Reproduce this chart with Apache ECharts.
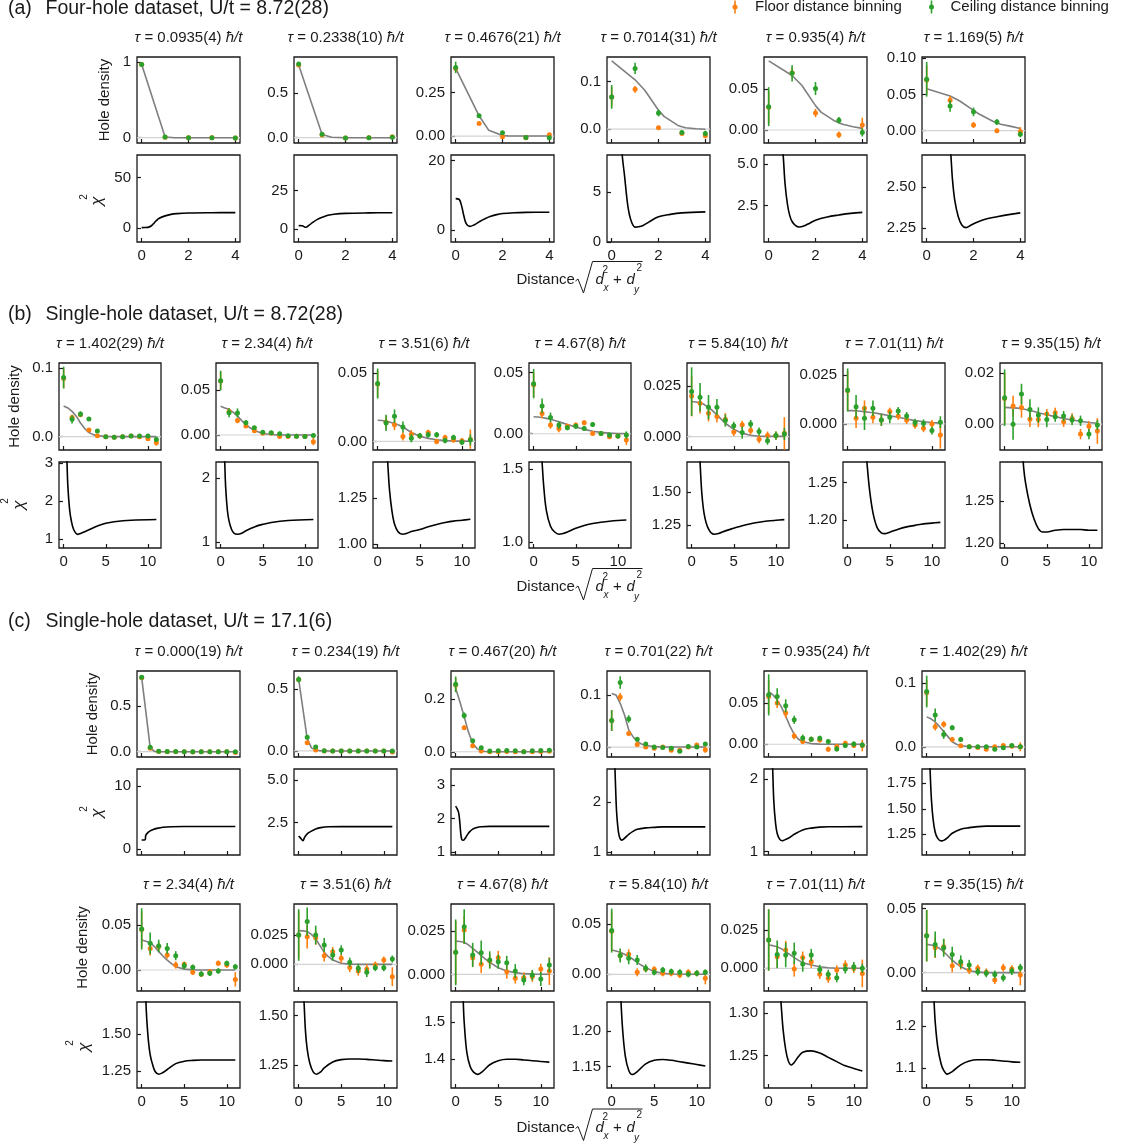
<!DOCTYPE html>
<html><head><meta charset="utf-8">
<script src="https://cdn.jsdelivr.net/npm/echarts/dist/echarts.min.js"></script>
<style>html,body{margin:0;padding:0;background:#fff}#c{width:1123px;height:1147px}</style>
</head><body><div id="c"></div>
<script>
// ---------------- DATA ----------------
const sectionTitles = ['Four-hole dataset, U/t = 8.72(28)', 'Single-hole dataset, U/t = 8.72(28)', 'Single-hole dataset, U/t = 17.1(6)'];
const legendNames = ['Floor distance binning', 'Ceiling distance binning'];

// (a) four-hole, distances 0..4
const aTau = ['0.0935(4)', '0.2338(10)', '0.4676(21)', '0.7014(31)', '0.935(4)', '1.169(5)'];
const aXTicks = [0, 2, 4];
const aFloor = [
  [0.97, 0.005, 0.0, 0.0, -0.005],
  [0.82, 0.03, -0.005, 0.0, 0.01],
  [0.39, 0.073, -0.004, -0.01, 0.008],
  [0.068, 0.084, 0.003, -0.009, -0.014],
  [0.028, 0.0705, 0.021, -0.006, 0.006],
  [0.07, 0.042, 0.008, 0.0, -0.001]
];
const aFloorErr = [
  [0.015, 0.005, 0.003, 0.003, 0.003],
  [0.02, 0.005, 0.003, 0.003, 0.004],
  [0.02, 0.006, 0.004, 0.004, 0.005],
  [0.02, 0.007, 0.004, 0.003, 0.005],
  [0.02, 0.006, 0.005, 0.004, 0.009],
  [0.02, 0.006, 0.004, 0.003, 0.006]
];
const aCeil = [
  [0.97, 0.01, 0.0, 0.0, -0.005],
  [0.83, 0.04, -0.005, 0.0, 0.005],
  [0.396, 0.117, 0.019, -0.008, -0.01],
  [0.068, 0.128, 0.034, -0.007, -0.009],
  [0.0287, 0.0697, 0.051, 0.012, -0.003],
  [0.071, 0.034, 0.026, 0.012, -0.005]
];
const aCeilErr = [
  [0.02, 0.006, 0.003, 0.003, 0.003],
  [0.025, 0.008, 0.004, 0.003, 0.004],
  [0.033, 0.01, 0.006, 0.004, 0.005],
  [0.025, 0.012, 0.007, 0.004, 0.006],
  [0.024, 0.01, 0.008, 0.004, 0.005],
  [0.024, 0.008, 0.006, 0.004, 0.004]
];
const aFitX = [0, 1, 1.414, 2, 2.236, 2.828, 3, 3.162, 3.606, 4];
const aFit = [
  [0.97, 0.01, 0.0, 0, 0, 0, 0, 0, 0, 0],
  [0.82, 0.035, 0.005, 0, 0, 0, 0, 0, 0, 0],
  [0.39, 0.117, 0.033, 0.003, 0.001, 0, 0, 0, 0, 0],
  [0.144, 0.104, 0.082, 0.040, 0.027, 0.008, 0.005, 0.003, 0.001, 0.0],
  [0.085, 0.067, 0.055, 0.030, 0.022, 0.011, 0.009, 0.007, 0.004, 0.002],
  [0.058, 0.048, 0.041, 0.028, 0.023, 0.013, 0.011, 0.009, 0.006, 0.003]
];
const aChi2 = [
  [[0,0.7],[0.15,0.8],[0.3,1.2],[0.4,2.3],[0.5,4.5],[0.6,7],[0.75,9.9],[1.0,12.3],[1.25,13.8],[1.5,14.5],[2,15.1],[3,15.4],[4,15.5]],
  [[0,2.2],[0.15,2.1],[0.3,1.1],[0.45,2.5],[0.6,4.3],[0.8,6.3],[1.0,7.6],[1.25,8.9],[1.5,9.6],[2,10.2],[3,10.5],[4,10.6]],
  [[0,9],[0.15,8.8],[0.25,7],[0.35,4],[0.45,1.8],[0.6,1.0],[0.8,1.5],[1.0,2.3],[1.25,3.2],[1.5,3.9],[1.75,4.4],[2,4.7],[2.5,4.95],[3,5.05],[4,5.1]],
  [[0.4,11],[0.45,8.7],[0.55,6.6],[0.69,3.6],[0.83,2.1],[1.0,1.47],[1.15,1.5],[1.34,1.63],[1.6,2.0],[2,2.5],[2.5,2.75],[3,2.9],[4,3.0]],
  [[0.55,6.5],[0.62,5.5],[0.7,3.8],[0.8,2.6],[0.9,1.9],[1.0,1.55],[1.15,1.3],[1.3,1.22],[1.5,1.28],[1.75,1.45],[2,1.63],[2.5,1.82],[3,1.94],[3.5,2.04],[4,2.1]],
  [[0.95,2.8],[1.03,2.7],[1.1,2.55],[1.2,2.42],[1.35,2.32],[1.5,2.27],[1.68,2.254],[1.9,2.27],[2.2,2.29],[2.5,2.305],[3,2.32],[3.5,2.333],[4,2.344]]
];
const aTopLim = [[-0.07,1.07],[-0.06,0.91],[-0.04,0.456],[-0.029,0.152],[-0.016,0.0898],[-0.017,0.1018]];
const aTopTicks = [[0,1],[0,0.5],[0,0.25],[0,0.1],[0,0.05],[0,0.05,0.1]];
const aTopDec = [0,1,2,1,2,2];
const aChiLim = [[-13.5,72.4],[-8.5,48.3],[-3.5,21.6],[-0.02,8.7],[0.32,5.54],[2.166,2.697]];
const aChiTicks = [[0,50],[0,25],[0,20],[0,5],[2.5,5],[2.25,2.5]];
const aChiDec = [0,0,0,0,1,2];

// (b) single-hole U/t=8.72, distances 0..11
const bTau = ['1.402(29)', '2.34(4)', '3.51(6)', '4.67(8)', '5.84(10)', '7.01(11)', '9.35(15)'];
const bcXTicks = [0, 5, 10];
const bFloor = [
  [0.085, 0.028, 0.032, 0.0098, 0.0015, 0.0, -0.001, 0.0, 0.001, 0.0, -0.003, -0.009],
  [0.06, 0.026, 0.016, 0.01, 0.0048, 0.002, 0.002, -0.0017, -0.0017, -0.0015, -0.0017, -0.0074],
  [0.042, 0.014, 0.0122, 0.0036, 0.0053, 0.004, 0.0065, -0.0001, 0.0028, 0.0011, 0.0004, 0.0016],
  [0.04, 0.0166, 0.0071, 0.0043, 0.0062, 0.0071, 0.009, 0.0003, 0.0003, -0.0024, -0.0019, -0.0052],
  [0.02, 0.0164, 0.0115, 0.0099, 0.0086, 0.0023, 0.0058, 0.003, -0.0013, 0.0005, 0.0005, 0.0016],
  [0.017, 0.0029, 0.008, 0.0034, 0.002, 0.0063, 0.0041, 0.002, -0.0005, -0.0022, 0.0, -0.0056],
  [0.01, 0.007, 0.0065, 0.0019, 0.0018, 0.0039, 0.0044, 0.0009, 0.0022, -0.0039, -0.0008, -0.0027]
];
const bFloorErr = [
  [0.014, 0.004, 0.003, 0.003, 0.002, 0.002, 0.002, 0.002, 0.002, 0.002, 0.003, 0.004],
  [0.01, 0.004, 0.003, 0.002, 0.002, 0.002, 0.002, 0.002, 0.002, 0.002, 0.002, 0.004],
  [0.01, 0.005, 0.004, 0.003, 0.003, 0.002, 0.002, 0.002, 0.002, 0.002, 0.002, 0.007],
  [0.01, 0.004, 0.003, 0.003, 0.002, 0.002, 0.002, 0.002, 0.002, 0.002, 0.002, 0.004],
  [0.01, 0.005, 0.004, 0.003, 0.003, 0.002, 0.002, 0.002, 0.002, 0.002, 0.002, 0.008],
  [0.01, 0.005, 0.004, 0.003, 0.003, 0.002, 0.002, 0.002, 0.002, 0.002, 0.002, 0.007],
  [0.01, 0.004, 0.004, 0.003, 0.003, 0.002, 0.002, 0.002, 0.002, 0.002, 0.002, 0.005]
];
const bCeil = [
  [0.0865, 0.0254, 0.033, 0.026, 0.0083, 0.0, -0.001, 0.0, 0.001, 0.001, 0.001, -0.004],
  [0.0604, 0.0248, 0.0245, 0.0137, 0.0081, 0.003, 0.0025, 0.0015, -0.001, -0.0015, -0.0017, -0.0005],
  [0.0423, 0.0135, 0.0184, 0.0105, 0.0023, 0.0041, 0.0048, 0.0048, 0.0006, 0.0028, -0.0006, 0.0011],
  [0.041, 0.0228, 0.0133, 0.0071, 0.0049, 0.0062, 0.0043, 0.0076, 0.0003, -0.0011, -0.0019, -0.0011],
  [0.0222, 0.0194, 0.0145, 0.0145, 0.0079, 0.0053, 0.002, 0.0062, 0.0025, -0.002, 0.0005, 0.0013],
  [0.0173, 0.0088, 0.0029, 0.008, 0.002, 0.0034, 0.0066, 0.0041, 0.0007, 0.0003, -0.0034, 0.0009],
  [0.0103, -0.0001, 0.0117, 0.0057, 0.0035, 0.0018, 0.0029, 0.0031, 0.0016, 0.0013, -0.0039, -0.0004]
];
const bCeilErr = [
  [0.016, 0.006, 0.004, 0.002, 0.002, 0.002, 0.002, 0.002, 0.002, 0.002, 0.002, 0.004],
  [0.011, 0.005, 0.005, 0.003, 0.002, 0.002, 0.002, 0.002, 0.002, 0.002, 0.002, 0.002],
  [0.011, 0.006, 0.005, 0.004, 0.003, 0.002, 0.002, 0.002, 0.002, 0.002, 0.002, 0.004],
  [0.012, 0.006, 0.004, 0.003, 0.002, 0.002, 0.002, 0.002, 0.002, 0.002, 0.002, 0.003],
  [0.012, 0.007, 0.006, 0.004, 0.003, 0.002, 0.003, 0.002, 0.002, 0.002, 0.002, 0.003],
  [0.011, 0.006, 0.006, 0.004, 0.003, 0.003, 0.002, 0.002, 0.002, 0.002, 0.002, 0.003],
  [0.011, 0.006, 0.004, 0.004, 0.003, 0.003, 0.002, 0.002, 0.002, 0.002, 0.002, 0.002]
];
const bcFitX = [0, 0.5, 1, 1.5, 2, 2.5, 3, 3.5, 4, 5, 6, 7, 8, 9, 10, 11];
const bFit = [
  [0.045, 0.042, 0.037, 0.03, 0.02, 0.012, 0.006, 0.003, 0.0015, 0.0003, 0, 0, 0, 0, 0, 0],
  [0.032, 0.030, 0.0285, 0.025, 0.021, 0.016, 0.0115, 0.008, 0.005, 0.0017, 0.0005, 0.0001, 0, 0, 0, 0],
  [0.0155, 0.0153, 0.0148, 0.014, 0.013, 0.012, 0.0105, 0.0085, 0.0065, 0.0038, 0.0022, 0.0012, 0.0006, 0.0003, 0.0002, 0.0001],
  [0.0139, 0.0137, 0.0133, 0.0126, 0.0118, 0.0108, 0.0098, 0.0087, 0.0076, 0.0055, 0.0036, 0.0021, 0.0011, 0.0005, 0.0002, 0.0001],
  [0.0173, 0.0171, 0.0168, 0.0158, 0.0145, 0.0127, 0.0107, 0.0086, 0.0066, 0.0036, 0.0016, 0.0007, 0.0002, 0.0001, 0.0001, 0.0001],
  [0.0068, 0.0068, 0.0067, 0.0065, 0.0063, 0.006, 0.0057, 0.0054, 0.005, 0.0042, 0.0034, 0.0025, 0.0017, 0.0011, 0.0007, 0.0004],
  [0.0065, 0.0064, 0.0063, 0.0062, 0.0061, 0.0057, 0.0053, 0.0049, 0.0044, 0.0036, 0.0029, 0.0022, 0.0016, 0.0011, 0.0006, 0.0003]
];
const bChi2 = [
  [[0.35,3.3],[0.4,3.0],[0.5,2.4],[0.7,1.8],[0.9,1.5],[1.2,1.25],[1.67,1.13],[2,1.15],[2.5,1.2],[3,1.25],[4,1.35],[5,1.42],[6,1.46],[8,1.5],[11,1.52]],
  [[0.45,2.4],[0.5,2.2],[0.6,1.85],[0.8,1.5],[1.0,1.33],[1.3,1.2],[1.6,1.14],[2,1.125],[2.5,1.14],[3,1.18],[4,1.24],[5,1.28],[6,1.31],[8,1.34],[11,1.355]],
  [[1.1,1.5],[1.2,1.44],[1.4,1.3],[1.7,1.18],[2,1.11],[2.4,1.07],[2.9,1.055],[3.5,1.06],[4,1.07],[5,1.08],[6,1.095],[7,1.108],[8,1.118],[9,1.126],[10,1.131],[11,1.136]],
  [[0.95,1.6],[1.0,1.55],[1.2,1.38],[1.5,1.22],[2,1.11],[2.5,1.07],[3,1.055],[3.5,1.06],[4,1.07],[5,1.095],[6,1.115],[7,1.128],[8,1.137],[9,1.144],[10,1.149],[11,1.152]],
  [[0.95,1.8],[1.0,1.73],[1.2,1.5],[1.5,1.33],[2,1.22],[2.66,1.179],[3.2,1.185],[4,1.205],[5,1.225],[6,1.245],[7,1.26],[8,1.271],[9,1.28],[10,1.286],[11,1.291]],
  [[2.2,1.29],[2.3,1.275],[2.6,1.24],[3,1.21],[3.5,1.19],[4,1.183],[4.4,1.182],[5,1.184],[6,1.188],[7,1.191],[8,1.193],[9,1.195],[10,1.196],[11,1.197]],
  [[2.15,1.31],[2.25,1.29],[2.5,1.27],[3,1.245],[3.5,1.228],[4,1.217],[4.5,1.213],[5,1.213],[6,1.215],[7,1.216],[8,1.216],[9,1.216],[10,1.215],[11,1.215]]
];
const bTopLim = [[-0.0195,0.1078],[-0.0167,0.08],[-0.0063,0.0573],[-0.0133,0.0579],[-0.0066,0.0363],[-0.0133,0.0311],[-0.0101,0.0238]];
const bTopTicks = [[0,0.1],[0,0.05],[0,0.05],[0,0.05],[0,0.025],[0,0.025],[0,0.02]];
const bTopDec = [1,2,2,2,3,3,2];
const bChiLim = [[0.77,3.035],[0.91,2.255],[0.98,1.447],[0.961,1.548],[1.074,1.732],[1.163,1.277],[1.194,1.296]];
const bChiTicks = [[1,2,3],[1,2],[1,1.25],[1,1.5],[1.25,1.5],[1.2,1.25],[1.2,1.25]];
const bChiDec = [0,0,2,1,2,2,2];

// (c) single-hole U/t=17.1, distances 0..11
const cTau = ['0.000(19)', '0.234(19)', '0.467(20)', '0.701(22)', '0.935(24)', '1.402(29)', '2.34(4)', '3.51(6)', '4.67(8)', '5.84(10)', '7.01(11)', '9.35(15)'];
const cFloor = [
  [0.81, 0.037, 0.003, 0.0, 0.0, 0.0, -0.002, 0.0, 0.0, 0.0, 0.0, -0.009],
  [0.58, 0.067, 0.008, 0.0, 0.0, 0.0, 0.0, 0.0, 0.0, 0.0, 0.0, -0.008],
  [0.255, 0.092, 0.023, 0.003, 0.0, 0.0, 0.001, 0.0, 0.0, 0.0, 0.001, 0.002],
  [0.051, 0.096, 0.026, 0.005, 0.0, -0.002, 0.0, -0.006, -0.006, 0.0, 0.004, -0.005],
  [0.058, 0.05, 0.038, 0.01, 0.0033, 0.006, 0.0053, -0.006, -0.0028, 0.0012, -0.0016, -0.0016],
  [0.085, 0.0316, 0.0353, 0.0116, 0.0016, 0.0, -0.001, -0.0037, 0.0, 0.002, 0.001, 0.0],
  [0.045, 0.024, 0.026, 0.0167, 0.0056, 0.0063, -0.0026, -0.0048, -0.0019, 0.0074, 0.0056, -0.0104],
  [0.025, 0.0236, 0.0227, 0.0074, 0.0108, 0.0051, -0.0026, -0.0057, -0.004, -0.0006, 0.0037, -0.0105],
  [0.0127, 0.0256, 0.0096, 0.0058, 0.0077, 0.0096, 0.0015, -0.0023, -0.0019, -0.0013, 0.0031, 0.0019],
  [0.043, 0.0187, 0.02, 0.002, 0.0053, 0.005, 0.001, 0.001, -0.0007, 0.002, 0.001, -0.004],
  [0.0185, 0.0076, 0.012, -0.0004, 0.007, 0.0043, -0.0039, -0.0065, -0.0011, 0.0022, 0.0, -0.0033],
  [0.0288, 0.0194, 0.0202, 0.0054, 0.0065, 0.0021, 0.0034, 0.0003, -0.0057, 0.0039, 0.0028, -0.0018]
];
const cFloorErr = [
  [0.015, 0.005, 0.003, 0.003, 0.003, 0.003, 0.003, 0.003, 0.003, 0.003, 0.003, 0.005],
  [0.02, 0.008, 0.004, 0.003, 0.003, 0.003, 0.003, 0.003, 0.003, 0.003, 0.003, 0.005],
  [0.025, 0.008, 0.005, 0.003, 0.003, 0.003, 0.003, 0.003, 0.003, 0.003, 0.003, 0.003],
  [0.02, 0.008, 0.005, 0.003, 0.003, 0.003, 0.003, 0.003, 0.003, 0.003, 0.003, 0.006],
  [0.02, 0.006, 0.006, 0.004, 0.003, 0.003, 0.003, 0.003, 0.003, 0.003, 0.003, 0.007],
  [0.02, 0.006, 0.005, 0.004, 0.003, 0.002, 0.002, 0.002, 0.002, 0.002, 0.002, 0.007],
  [0.02, 0.008, 0.005, 0.004, 0.004, 0.003, 0.003, 0.003, 0.003, 0.003, 0.003, 0.008],
  [0.02, 0.01, 0.006, 0.005, 0.004, 0.004, 0.004, 0.004, 0.004, 0.003, 0.003, 0.008],
  [0.018, 0.008, 0.005, 0.005, 0.004, 0.004, 0.004, 0.003, 0.003, 0.003, 0.003, 0.008],
  [0.02, 0.005, 0.005, 0.004, 0.003, 0.003, 0.003, 0.003, 0.003, 0.003, 0.003, 0.006],
  [0.02, 0.007, 0.006, 0.005, 0.004, 0.004, 0.003, 0.003, 0.003, 0.003, 0.003, 0.009],
  [0.02, 0.008, 0.006, 0.005, 0.004, 0.003, 0.003, 0.003, 0.003, 0.003, 0.003, 0.008]
];
const cCeil = [
  [0.815, 0.048, 0.005, 0.003, 0.001, 0.0, 0.0, 0.0, 0.0, 0.0, 0.0, 0.0],
  [0.581, 0.111, 0.032, 0.002, 0.0, 0.0, 0.0, 0.0, 0.0, 0.0, 0.0, 0.0],
  [0.257, 0.138, 0.042, 0.015, 0.003, 0.004, 0.005, 0.004, 0.0, 0.004, 0.005, 0.006],
  [0.051, 0.124, 0.054, 0.015, 0.006, 0.0, -0.001, -0.002, -0.008, 0.001, 0.0, 0.006],
  [0.06, 0.058, 0.0467, 0.0297, 0.0077, 0.0061, 0.0073, 0.0033, -0.0057, -0.0016, 0.0004, -0.0008],
  [0.0868, 0.05, 0.0195, 0.03, 0.0116, 0.0, 0.0, 0.0, -0.004, -0.0016, 0.002, 0.0],
  [0.0456, 0.0296, 0.0267, 0.024, 0.0159, 0.0048, 0.003, -0.0044, -0.0037, -0.0011, 0.0074, 0.0037],
  [0.025, 0.0364, 0.025, 0.0165, 0.008, 0.0122, 0.0017, -0.0034, -0.0068, -0.0028, -0.0028, 0.0045],
  [0.0127, 0.0275, 0.0112, 0.0125, 0.0083, 0.0073, 0.0067, 0.0019, -0.0033, -0.0004, -0.0027, 0.0054],
  [0.0437, 0.0187, 0.016, 0.0143, 0.006, 0.002, 0.0043, 0.0027, 0.002, 0.0, 0.001, 0.002],
  [0.0185, 0.0091, 0.0087, 0.0098, 0.0028, 0.0087, -0.0007, -0.0039, -0.0061, -0.0004, 0.0011, 0.0],
  [0.0288, 0.022, 0.0194, 0.0142, 0.0085, 0.006, 0.0008, -0.0005, -0.0013, -0.0039, 0.0013, 0.0039]
];
const cCeilErr = [
  [0.02, 0.006, 0.003, 0.003, 0.003, 0.003, 0.003, 0.003, 0.003, 0.003, 0.003, 0.003],
  [0.025, 0.01, 0.006, 0.003, 0.003, 0.003, 0.003, 0.003, 0.003, 0.003, 0.003, 0.003],
  [0.03, 0.012, 0.006, 0.004, 0.003, 0.003, 0.003, 0.003, 0.003, 0.003, 0.003, 0.003],
  [0.02, 0.012, 0.007, 0.004, 0.003, 0.003, 0.003, 0.003, 0.003, 0.003, 0.003, 0.003],
  [0.025, 0.01, 0.008, 0.005, 0.004, 0.003, 0.003, 0.003, 0.003, 0.003, 0.003, 0.003],
  [0.025, 0.01, 0.007, 0.004, 0.004, 0.002, 0.002, 0.002, 0.002, 0.002, 0.002, 0.003],
  [0.023, 0.012, 0.007, 0.006, 0.005, 0.004, 0.003, 0.003, 0.003, 0.003, 0.003, 0.003],
  [0.022, 0.012, 0.008, 0.006, 0.005, 0.004, 0.004, 0.004, 0.004, 0.003, 0.003, 0.003],
  [0.019, 0.01, 0.007, 0.007, 0.005, 0.004, 0.004, 0.004, 0.003, 0.003, 0.004, 0.004],
  [0.022, 0.007, 0.006, 0.005, 0.004, 0.003, 0.003, 0.003, 0.003, 0.003, 0.003, 0.003],
  [0.02, 0.009, 0.008, 0.007, 0.005, 0.004, 0.003, 0.003, 0.003, 0.003, 0.003, 0.003],
  [0.02, 0.01, 0.007, 0.006, 0.005, 0.004, 0.003, 0.003, 0.003, 0.003, 0.003, 0.003]
];
const cFit = [
  [0.81, 0.43, 0.045, 0.004, 0.0, 0, 0, 0, 0, 0, 0, 0, 0, 0, 0, 0],
  [0.58, 0.34, 0.1, 0.025, 0.008, 0.002, 0.001, 0, 0, 0, 0, 0, 0, 0, 0, 0],
  [0.242, 0.19, 0.134, 0.075, 0.032, 0.012, 0.003, 0.001, 0, 0, 0, 0, 0, 0, 0, 0],
  [0.103, 0.1, 0.084, 0.062, 0.033, 0.02, 0.011, 0.006, 0.003, 0.001, 0.0003, 0.0001, 0.0001, 0.0001, 0.0001, 0.0001],
  [0.064, 0.06, 0.054, 0.045, 0.034, 0.022, 0.012, 0.006, 0.003, 0.0008, 0.0002, 0, 0, 0, 0, 0],
  [0.047, 0.044, 0.039, 0.032, 0.024, 0.016, 0.008, 0.004, 0.0016, 0.0004, 0.0001, 0, 0, 0, 0, 0],
  [0.0333, 0.032, 0.0304, 0.026, 0.0204, 0.0155, 0.011, 0.007, 0.0037, 0.001, 0.0002, 0, 0, 0, 0, 0],
  [0.0287, 0.0285, 0.028, 0.0255, 0.0216, 0.016, 0.0102, 0.0065, 0.0037, 0.0009, 0.0002, 0, 0, 0, 0, 0],
  [0.0192, 0.019, 0.0185, 0.017, 0.015, 0.013, 0.0108, 0.0088, 0.0069, 0.0038, 0.0019, 0.001, 0.0004, 0.0002, 0.0001, 0.0001],
  [0.0243, 0.0233, 0.022, 0.02, 0.0177, 0.015, 0.012, 0.009, 0.0067, 0.0027, 0.001, 0.0003, 0.0001, 0.0001, 0.0001, 0.0001],
  [0.0152, 0.0148, 0.0141, 0.0127, 0.0109, 0.009, 0.007, 0.0052, 0.0037, 0.0022, 0.001, 0.0004, 0.0001, 0.0001, 0.0001, 0.0001],
  [0.022, 0.0215, 0.0207, 0.019, 0.0163, 0.013, 0.0098, 0.007, 0.0047, 0.0016, 0.0005, 0.0001, 0.0001, 0.0001, 0.0001, 0.0001]
];
const cChi2 = [
  [[0,1.47],[0.4,1.5],[0.48,2.2],[0.7,2.6],[1.0,2.9],[1.3,3.1],[1.8,3.3],[2.5,3.48],[3.5,3.57],[5,3.6],[11,3.6]],
  [[0,1.72],[0.25,1.58],[0.5,1.45],[0.7,1.65],[1.0,1.85],[1.4,1.98],[2,2.13],[2.6,2.21],[3.5,2.26],[5,2.27],[11,2.27]],
  [[0,2.37],[0.3,2.22],[0.4,2.1],[0.5,1.85],[0.6,1.55],[0.72,1.38],[0.9,1.36],[1.2,1.45],[1.6,1.6],[2,1.69],[2.5,1.74],[3,1.76],[4,1.77],[11,1.77]],
  [[0.35,2.8],[0.4,2.6],[0.5,2.1],[0.6,1.75],[0.8,1.4],[1.0,1.27],[1.2,1.245],[1.5,1.28],[2,1.36],[2.5,1.42],[3,1.46],[4,1.49],[5,1.5],[6,1.51],[11,1.51]],
  [[0.42,2.3],[0.47,2.14],[0.6,1.7],[0.8,1.4],[1.0,1.25],[1.3,1.17],[1.6,1.15],[2,1.17],[2.5,1.2],[3,1.24],[4,1.3],[5,1.325],[6,1.338],[7,1.343],[11,1.345]],
  [[0.35,2.0],[0.4,1.88],[0.55,1.6],[0.75,1.4],[1.0,1.27],[1.3,1.21],[1.7,1.185],[2,1.19],[2.5,1.22],[3,1.26],[4,1.3],[5,1.315],[6,1.325],[7,1.33],[11,1.33]],
  [[0.45,1.8],[0.5,1.72],[0.6,1.6],[0.8,1.45],[1.0,1.36],[1.3,1.29],[1.6,1.245],[2,1.228],[2.5,1.24],[3,1.26],[4,1.3],[5,1.316],[6,1.322],[7,1.325],[11,1.325]],
  [[0.6,1.6],[0.65,1.55],[0.8,1.42],[1.0,1.33],[1.3,1.26],[1.7,1.215],[2.1,1.203],[2.6,1.215],[3,1.235],[4,1.265],[5,1.277],[6,1.28],[7,1.28],[8,1.278],[9,1.275],[10,1.272],[11,1.27]],
  [[0.85,1.6],[0.9,1.55],[1.0,1.5],[1.3,1.42],[1.7,1.38],[2.1,1.365],[2.6,1.359],[3.2,1.368],[4,1.385],[5,1.396],[6,1.4],[7,1.4],[8,1.398],[9,1.396],[10,1.394],[11,1.392]],
  [[1.05,1.26],[1.1,1.24],[1.3,1.2],[1.6,1.165],[2,1.145],[2.4,1.139],[3,1.143],[4,1.154],[5,1.159],[6,1.16],[7,1.159],[8,1.157],[9,1.155],[10,1.153],[11,1.151]],
  [[1.4,1.32],[1.5,1.305],[1.7,1.28],[2,1.257],[2.3,1.244],[2.65,1.239],[3,1.242],[3.5,1.249],[4,1.254],[5,1.2556],[6,1.253],[7,1.248],[8,1.243],[9,1.238],[10,1.235],[11,1.232]],
  [[0.82,1.28],[0.87,1.257],[1.0,1.21],[1.3,1.15],[1.7,1.11],[2,1.095],[2.4,1.086],[3,1.092],[4,1.108],[5,1.117],[6,1.12],[7,1.12],[8,1.119],[9,1.117],[10,1.115],[11,1.114]]
];
const cTopLim = [[-0.058,0.883],[-0.049,0.649],[-0.02,0.308],[-0.019,0.146],[-0.0155,0.089],[-0.016,0.119],[-0.0233,0.0733],[-0.0227,0.0514],[-0.0096,0.0406],[-0.0167,0.0703],[-0.0148,0.042],[-0.0142,0.0534]];
const cTopTicks = [[0,0.5],[0,0.5],[0,0.2],[0,0.1],[0,0.05],[0,0.1],[0,0.05],[0,0.025],[0,0.025],[0,0.05],[0,0.025],[0,0.05]];
const cTopDec = [1,1,1,1,2,1,2,3,3,2,3,2];
const cChiLim = [[-0.9,12.68],[0.61,5.64],[0.92,3.475],[0.947,2.667],[0.955,2.138],[1.047,1.89],[1.134,1.72],[1.133,1.569],[1.322,1.555],[1.12,1.241],[1.212,1.313],[1.053,1.257]];
const cChiTicks = [[0,10],[2.5,5],[1,2,3],[1,2],[1,2],[1.25,1.5,1.75],[1.25,1.5],[1.25,1.5],[1.4,1.5],[1.15,1.2],[1.25,1.3],[1.1,1.2]];
const cChiDec = [0,1,0,0,0,2,2,2,1,2,2,1];

// ---------------- LAYOUT / STYLE ----------------
const FONT = '"Liberation Sans", Arial, Helvetica, sans-serif';
const ORANGE = '#ff7f0e', GREEN = '#2ca02c', FITC = '#7f7f7f', INK = '#1a1a1a';
const FS = 15;
const grids = [], xAxes = [], yAxes = [], series = [], graphics = [];

function addGrid(left, top, width, height, xlim, xticks, showX, ylim, yticks, ydec) {
  const idx = grids.length;
  grids.push({left: left, top: top, width: width, height: height, show: true,
    borderColor: INK, borderWidth: 1.3, backgroundColor: 'rgba(0,0,0,0)', containLabel: false});
  xAxes.push({type: 'value', gridIndex: idx, min: xlim[0], max: xlim[1],
    axisLine: {show: false, onZero: false}, splitLine: {show: false},
    axisTick: {show: true, inside: true, length: 4, customValues: xticks, lineStyle: {color: INK, width: 1.2}},
    axisLabel: {show: showX, customValues: xticks, margin: 6, color: INK, fontSize: FS, fontFamily: FONT,
      formatter: function (v) { return String(v); }}});
  yAxes.push({type: 'value', gridIndex: idx, min: ylim[0], max: ylim[1],
    axisLine: {show: false, onZero: false}, splitLine: {show: false},
    axisTick: {show: true, inside: true, length: 4, customValues: yticks, lineStyle: {color: INK, width: 1.2}},
    axisLabel: {show: true, customValues: yticks, margin: 6, color: INK, fontSize: FS, fontFamily: FONT,
      formatter: function (v) { return Number(v).toFixed(ydec); }}});
  return idx;
}

function errItem(color) {
  return function (params, api) {
    const x = api.value(0), y = api.value(1), e = api.value(2);
    const p = api.coord([x, y]), lo = api.coord([x, y - e]), hi = api.coord([x, y + e]);
    return {type: 'group', children: [
      {type: 'line', shape: {x1: p[0], y1: lo[1], x2: p[0], y2: hi[1]}, style: {stroke: color, lineWidth: 1.6}},
      {type: 'circle', shape: {cx: p[0], cy: p[1], r: 2.5}, style: {fill: color}}
    ]};
  };
}

function addText(x, y, str, opt) {
  const st = Object.assign({text: str, fill: INK, fontSize: FS, fontFamily: FONT, align: 'left', verticalAlign: 'middle'}, opt || {});
  const el = {type: 'text', x: x, y: y, silent: true, style: st, z: 100};
  if (opt && opt.rotation) { el.rotation = opt.rotation; delete st.rotation; }
  graphics.push(el);
}

function addPanel(o) {
  const gi = addGrid(o.left, o.topY, o.w, o.topH, o.xlim, o.xticks, false, o.topLim, o.topTicks, o.topDec);
  series.push({type: 'line', xAxisIndex: gi, yAxisIndex: gi, data: [[o.xlim[0], 0], [o.xlim[1], 0]],
    symbol: 'none', lineStyle: {color: '#d3d3d3', width: 1.2}, z: 1, silent: true});
  series.push({type: 'line', xAxisIndex: gi, yAxisIndex: gi, data: o.fitX.map(function (x, i) { return [x, o.fit[i]]; }),
    symbol: 'none', lineStyle: {color: FITC, width: 1.6}, z: 2, silent: true});
  series.push({type: 'custom', name: legendNames[0], xAxisIndex: gi, yAxisIndex: gi, renderItem: errItem(ORANGE), clip: true,
    encode: {x: 0, y: 1}, data: o.floor.map(function (v, i) { return [i, v, o.floorErr[i]]; }), z: 3, silent: true});
  series.push({type: 'custom', name: legendNames[1], xAxisIndex: gi, yAxisIndex: gi, renderItem: errItem(GREEN), clip: true,
    encode: {x: 0, y: 1}, data: o.ceil.map(function (v, i) { return [i, v, o.ceilErr[i]]; }), z: 4, silent: true});
  const gj = addGrid(o.left, o.botY, o.w, o.botH, o.xlim, o.xticks, o.showX, o.chiLim, o.chiTicks, o.chiDec);
  series.push({type: 'line', xAxisIndex: gj, yAxisIndex: gj, data: o.chi, symbol: 'none', smooth: 0.35,
    lineStyle: {color: '#000', width: 1.6}, clip: true, z: 2, silent: true});
  addText(o.left + o.w / 2, o.titleY, '{i|τ} = ' + o.tau + ' {i|ħ/t}', {align: 'center',
    rich: {i: {fontStyle: 'italic', fontSize: FS, fontFamily: FONT, fill: INK}}});
}

const ACOLS = [137, 294, 451, 607, 764, 922];
const BCOLS = [59, 216, 373, 529, 687, 843, 1000];

for (let i = 0; i < 6; i++) {
  addPanel({left: ACOLS[i], w: 103, topY: 57, topH: 86, botY: 155, botH: 87, xlim: [-0.2, 4.2], xticks: aXTicks, showX: true,
    tau: aTau[i], floor: aFloor[i], floorErr: aFloorErr[i], ceil: aCeil[i], ceilErr: aCeilErr[i], fitX: aFitX, fit: aFit[i],
    topLim: aTopLim[i], topTicks: aTopTicks[i], topDec: aTopDec[i], chi: aChi2[i], chiLim: aChiLim[i], chiTicks: aChiTicks[i], chiDec: aChiDec[i], titleY: 38});
}
for (let i = 0; i < 7; i++) {
  addPanel({left: BCOLS[i], w: 102, topY: 363, topH: 87, botY: 462, botH: 86, xlim: [-0.55, 11.55], xticks: bcXTicks, showX: true,
    tau: bTau[i], floor: bFloor[i], floorErr: bFloorErr[i], ceil: bCeil[i], ceilErr: bCeilErr[i], fitX: bcFitX, fit: bFit[i],
    topLim: bTopLim[i], topTicks: bTopTicks[i], topDec: bTopDec[i], chi: bChi2[i], chiLim: bChiLim[i], chiTicks: bChiTicks[i], chiDec: bChiDec[i], titleY: 343.5});
}
for (let i = 0; i < 12; i++) {
  const row = i < 6 ? 0 : 1, col = i % 6;
  addPanel({left: ACOLS[col], w: 103,
    topY: row ? 904 : 671, topH: row ? 87 : 86, botY: row ? 1002 : 769, botH: 86,
    xlim: [-0.55, 11.55], xticks: bcXTicks, showX: row === 1,
    tau: cTau[i], floor: cFloor[i], floorErr: cFloorErr[i], ceil: cCeil[i], ceilErr: cCeilErr[i], fitX: bcFitX, fit: cFit[i],
    topLim: cTopLim[i], topTicks: cTopTicks[i], topDec: cTopDec[i], chi: cChi2[i], chiLim: cChiLim[i], chiTicks: cChiTicks[i], chiDec: cChiDec[i],
    titleY: row ? 885 : 652});
}

// section headers
[['(a)', 9], ['(b)', 315], ['(c)', 621.5]].forEach(function (h, k) {
  addText(8, h[1], h[0], {fontSize: 19.5});
  addText(45.5, h[1], sectionTitles[k], {fontSize: 19.5});
});

// y-axis labels
const R = Math.PI / 2;
[[105, 100], [15, 406.5], [93, 714], [83, 947.5]].forEach(function (p) {
  addText(p[0], p[1], 'Hole density', {align: 'center', rotation: R});
});
[[97.5, 201], [19, 505], [97.5, 813], [84, 1047]].forEach(function (p) {
  addText(p[0], p[1], 'χ', {align: 'center', rotation: R, fontStyle: 'italic', fontSize: 17});
  addText(p[0] - 13.5, p[1] - 4, '2', {align: 'center', rotation: R, fontSize: 10});
});

// distance labels
[0, 307, 847.5].forEach(function (dy) {
  addText(516.5, 280 + dy, 'Distance', {});
  graphics.push({type: 'polyline', silent: true, z: 100,
    shape: {points: [[575.5, 281 + dy], [578, 279 + dy], [583.5, 293 + dy], [592.5, 261.5 + dy], [642.5, 261.5 + dy]]},
    style: {stroke: INK, lineWidth: 1, fill: null}});
  addText(595.5, 280 + dy, 'd', {fontStyle: 'italic'});
  addText(602.5, 270 + dy, '2', {fontSize: 10});
  addText(603.5, 288.5 + dy, 'x', {fontSize: 10, fontStyle: 'italic'});
  addText(613, 280 + dy, '+', {});
  addText(626.5, 280 + dy, 'd', {fontStyle: 'italic'});
  addText(636.5, 268 + dy, '2', {fontSize: 10});
  addText(634, 290.5 + dy, 'y', {fontSize: 10, fontStyle: 'italic'});
});

// legend
[[735, ORANGE, 755, 0], [931.5, GREEN, 950.5, 1]].forEach(function (L) {
  graphics.push({type: 'line', silent: true, z: 100, shape: {x1: L[0], y1: 0.5, x2: L[0], y2: 13.5}, style: {stroke: L[1], lineWidth: 1.6}});
  graphics.push({type: 'circle', silent: true, z: 100, shape: {cx: L[0], cy: 7, r: 2.5}, style: {fill: L[1]}});
  addText(L[2], 7, legendNames[L[3]], {});
});

const chart = echarts.init(document.getElementById('c'), null, {renderer: 'canvas'});
chart.setOption({animation: false, backgroundColor: '#fff', grid: grids, xAxis: xAxes, yAxis: yAxes, series: series, graphic: {elements: graphics}});
</script></body></html>
